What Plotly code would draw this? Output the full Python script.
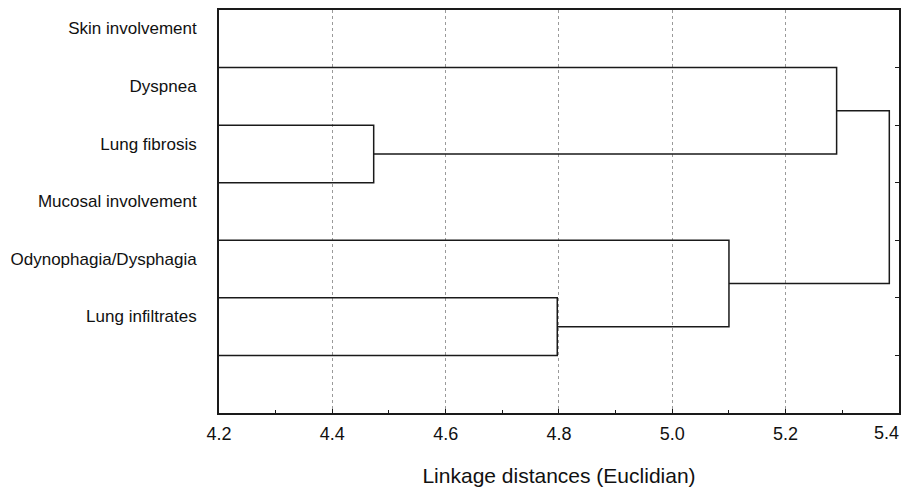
import plotly.graph_objects as go

# Leaf labels (top to bottom) and their row positions
labels = ["Skin involvement", "Dyspnea", "Lung fibrosis",
          "Mucosal involvement", "Odynophagia/Dysphagia", "Lung infiltrates"]
leaf_rows = [1, 2, 3, 4, 5, 6]
label_rows = [0.32, 1.32, 2.32, 3.32, 4.32, 5.32]

# Linkage: (child_a, child_b, distance); leaves 0..5, new nodes 6..
merge_a = [1, 4, 3, 0, 9]
merge_b = [2, 5, 7, 6, 8]
merge_dist = [4.473, 4.797, 5.100, 5.290, 5.383]

x_ticks = [4.2, 4.4, 4.6, 4.8, 5.0, 5.2, 5.4]
x_min, x_max = 4.2, 5.4

# Build dendrogram segments
node_y = {i: r for i, r in enumerate(leaf_rows)}
node_h = {i: x_min for i in range(len(leaf_rows))}
xs, ys = [], []
for k, (a, b, d) in enumerate(zip(merge_a, merge_b, merge_dist)):
    nid = len(leaf_rows) + k
    ya, yb = node_y[a], node_y[b]
    xs += [node_h[a], d, d, node_h[b], None]
    ys += [ya, ya, yb, yb, None]
    node_y[nid] = (ya + yb) / 2
    node_h[nid] = d

fig = go.Figure()
fig.add_trace(go.Scatter(x=xs, y=ys, mode="lines",
                         line=dict(color="#1a1a1a", width=1.5),
                         hoverinfo="skip", showlegend=False))
# invisible traces for the secondary axes (right ticks, last x label)
fig.add_trace(go.Scatter(x=[x_min], y=[1], yaxis="y2", mode="markers",
                         marker=dict(opacity=0), hoverinfo="skip", showlegend=False))
fig.add_trace(go.Scatter(x=[x_min], y=[1], xaxis="x2", mode="markers",
                         marker=dict(opacity=0), hoverinfo="skip", showlegend=False))

font = "Liberation Sans, Arial, sans-serif"
main_ticks = x_ticks[:-1]
last_tick = x_ticks[-1:]
fig.update_layout(
    width=901, height=480,
    margin=dict(l=211, r=10, t=2, b=75),
    paper_bgcolor="white", plot_bgcolor="white",
    font=dict(family=font, color="#111111"),
    xaxis=dict(range=[x_min, x_max + 1e-4], tickvals=x_ticks,
               ticktext=[f"{v:.1f}" for v in main_ticks] + [""],
               tickfont=dict(size=18), ticks="inside", ticklen=4,
               tickcolor="#1a1a1a", automargin=False,
               showgrid=True, gridcolor="#9a9a9a", griddash="dot", gridwidth=1,
               minor=dict(dtick=0.1, tick0=4.3, ticks="inside", ticklen=3,
                          tickcolor="#1a1a1a", showgrid=False),
               showline=True, linecolor="#1a1a1a", linewidth=1.8, mirror=True,
               zeroline=False, ticklabelstandoff=3,
               title=dict(text="Linkage distances (Euclidian)",
                          font=dict(size=21), standoff=26)),
    xaxis2=dict(range=[x_min, x_max + 1e-4], overlaying="x", side="bottom",
                tickvals=last_tick, ticktext=[f"{v:.1f}" for v in last_tick],
                tickfont=dict(size=18), ticks="", automargin=False,
                ticklabelposition="outside left", ticklabelstandoff=7,
                ticklabeloverflow="allow",
                showgrid=False, zeroline=False, showline=False),
    yaxis=dict(range=[7, 0], tickvals=label_rows, ticktext=labels,
               tickfont=dict(size=17), ticks="", showgrid=False, automargin=False,
               showline=True, linecolor="#1a1a1a", linewidth=1.8, mirror=True,
               zeroline=False, ticklabelstandoff=17),
    yaxis2=dict(range=[7, 0], overlaying="y", side="right", automargin=False,
                tickvals=leaf_rows, ticks="inside", ticklen=4,
                tickcolor="#1a1a1a", showticklabels=False, showgrid=False,
                zeroline=False, showline=True, linecolor="#1a1a1a", linewidth=1.8),
)

fig.write_html("out.html")
